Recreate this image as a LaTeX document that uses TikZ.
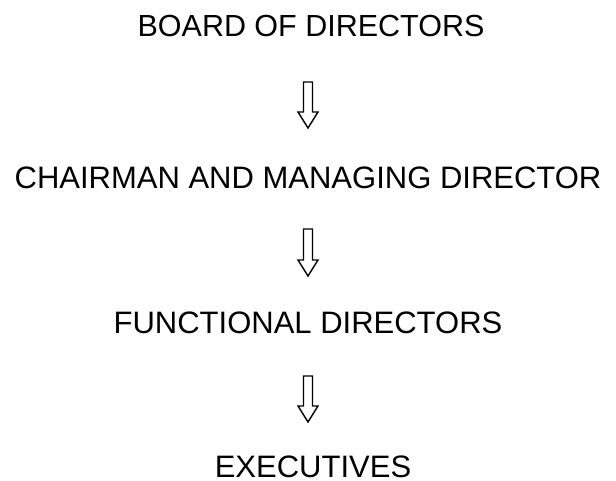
\documentclass[tikz,border=0pt]{standalone}
\usepackage{fontspec}
\setmainfont{Liberation Sans}
\usetikzlibrary{calc}
\begin{document}
\begin{tikzpicture}[x=1pt,y=-1pt,
  lbl/.style={anchor=base,inner sep=0pt,font=\fontsize{31}{36}\selectfont},
  blk/.style={draw=black,line width=1.4pt,line join=miter,to path={
    let \p1=(\tikztostart), \p2=(\tikztotarget) in
    (\x1-4.5pt,\y1) -- (\x1+4.5pt,\y1) -- (\x1+4.5pt,\y2+16pt) -- (\x1+10pt,\y2+16pt)
    -- (\x2,\y2) -- (\x1-10pt,\y2+16pt) -- (\x1-4.5pt,\y2+16pt) -- cycle}}]
\useasboundingbox (0,0) rectangle (616,481);
\node[lbl,font=\fontsize{30.5}{36}\selectfont] (bod) at (311,37) {BOARD OF DIRECTORS};
\node[lbl] (cmd) at (308,189) {CHAIRMAN AND MANAGING DIRECTOR};
\node[lbl] (fd) at (308,333) {FUNCTIONAL DIRECTORS};
\node[lbl] (ex) at (313,477) {EXECUTIVES};
\coordinate (a1s) at (308,82);  \coordinate (a1e) at (308,128);
\coordinate (a2s) at (308,229); \coordinate (a2e) at (308,276);
\coordinate (a3s) at (308,376); \coordinate (a3e) at (308,422);
\draw[blk] (a1s) to (a1e);
\draw[blk] (a2s) to (a2e);
\draw[blk] (a3s) to (a3e);
\end{tikzpicture}
\end{document}
